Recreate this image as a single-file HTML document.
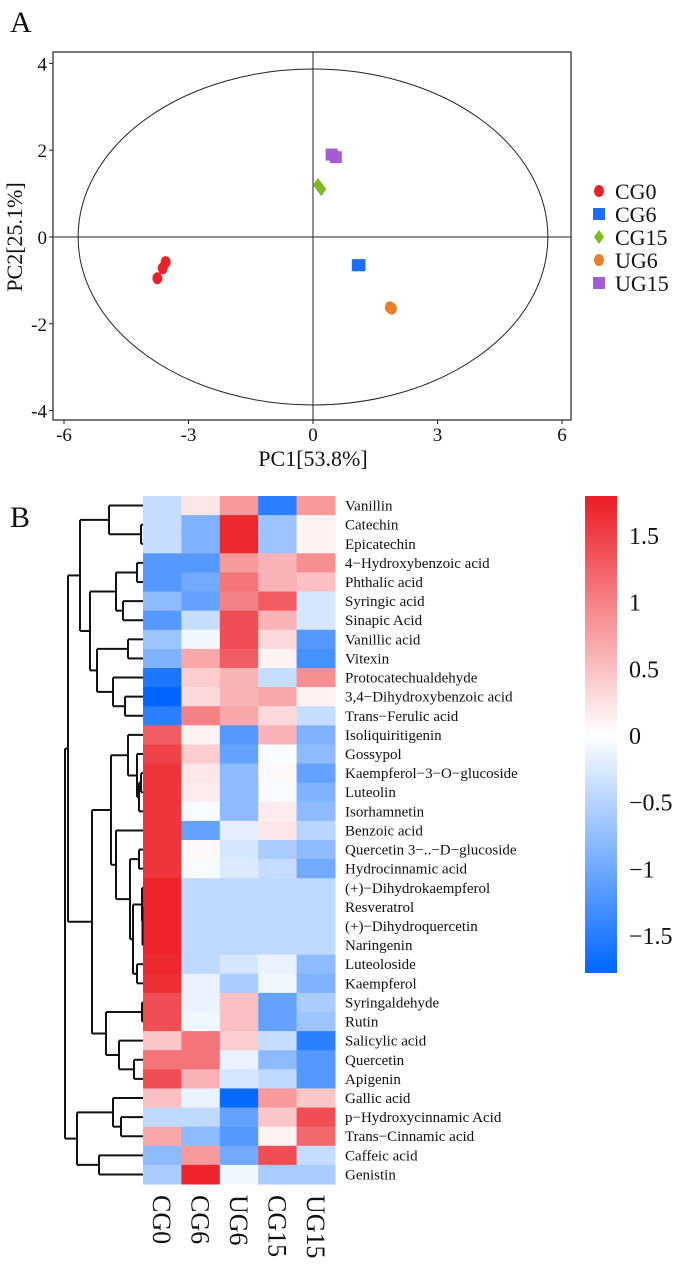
<!DOCTYPE html>
<html><head><meta charset="utf-8"><style>
body{margin:0;background:#fff;width:691px;height:1282px;overflow:hidden}
svg{display:block;font-family:"Liberation Serif",serif}
</style></head><body>
<svg id="s" width="691" height="1282" xmlns="http://www.w3.org/2000/svg"></svg>
<script>
// ---- PCA data ----
const groups=["CG0","CG6","CG15","UG6","UG15"];
const groupColors=["#E8212B","#1E6EF5","#7DBB1E","#EC7D2A","#A35BD6"];
const pc1=[[-3.55,-3.62,-3.75],[1.08,1.12],[0.12,0.2],[1.85,1.9],[0.45,0.55]];
const pc2=[[-0.58,-0.72,-0.95],[-0.65,-0.65],[1.2,1.1],[-1.62,-1.65],[1.9,1.84]];
const xTicks=[-6,-3,0,3,6];
const yTicks=[4,2,0,-2,-4];
// ---- heatmap data ----
const compounds=["Vanillin","Catechin","Epicatechin","4\u2212Hydroxybenzoic acid","Phthalic acid","Syringic acid","Sinapic Acid","Vanillic acid","Vitexin","Protocatechualdehyde","3,4\u2212Dihydroxybenzoic acid","Trans\u2212Ferulic acid","Isoliquiritigenin","Gossypol","Kaempferol\u22123\u2212O\u2212glucoside","Luteolin","Isorhamnetin","Benzoic acid","Quercetin 3\u2212..\u2212D\u2212glucoside","Hydrocinnamic acid","(+)\u2212Dihydrokaempferol","Resveratrol","(+)\u2212Dihydroquercetin","Naringenin","Luteoloside","Kaempferol","Syringaldehyde","Rutin","Salicylic acid","Quercetin","Apigenin","Gallic acid","p\u2212Hydroxycinnamic Acid","Trans\u2212Cinnamic acid","Caffeic acid","Genistin"];
const samples=["CG0","CG6","UG6","CG15","UG15"];
const vCG0=[-0.4,-0.4,-0.4,-1.2,-1.2,-0.8,-1.2,-0.7,-0.9,-1.6,-1.8,-1.5,1.3,1.5,1.6,1.6,1.6,1.6,1.6,1.6,1.75,1.75,1.75,1.75,1.7,1.65,1.4,1.4,0.45,1.1,1.4,0.5,-0.45,0.7,-0.8,-0.6];
const vCG6=[0.2,-0.9,-0.9,-1.2,-1.0,-1.1,-0.4,-0.1,0.7,0.4,0.3,1.0,0.1,0.4,0.2,0.15,-0.05,-1.1,0.05,-0.05,-0.45,-0.45,-0.45,-0.45,-0.45,-0.15,-0.15,-0.1,1.1,1.1,0.6,-0.15,-0.45,-0.8,0.8,1.75];
const vUG6=[0.8,1.7,1.7,0.8,1.1,1.0,1.4,1.4,1.3,0.6,0.6,0.7,-1.2,-1.1,-0.8,-0.8,-0.8,-0.2,-0.3,-0.25,-0.45,-0.45,-0.45,-0.45,-0.3,-0.6,0.5,0.5,0.4,-0.15,-0.3,-1.75,-1.1,-1.2,-1.0,-0.1];
const vCG15=[-1.5,-0.7,-0.7,0.6,0.6,1.3,0.6,0.3,0.1,-0.4,0.7,0.3,0.6,-0.03,0.05,-0.05,0.15,0.2,-0.6,-0.4,-0.45,-0.45,-0.45,-0.45,-0.15,-0.1,-1.1,-1.1,-0.4,-0.8,-0.45,0.8,0.45,0.1,1.4,-0.6];
const vUG15=[0.8,0.1,0.1,0.9,0.5,-0.3,-0.3,-1.2,-1.3,0.9,0.1,-0.4,-0.9,-0.8,-1.1,-0.9,-0.8,-0.5,-0.8,-1.0,-0.45,-0.45,-0.45,-0.45,-0.8,-0.9,-0.6,-0.7,-1.5,-1.2,-1.2,0.45,1.4,1.2,-0.4,-0.6];
const cbTicks=[1.5,1,0.5,0,-0.5,-1,-1.5];
// dendrogram: merge x positions and children (leaf = row index)
const tree={x:65,c:[{x:68,c:[
  {x:80,c:[{x:109,c:[0,{x:141,c:[1,2]}]},{x:90,c:[{x:116,c:[{x:137,c:[3,4]},{x:123,c:[5,6]}]},{x:97,c:[{x:128,c:[7,8]},{x:113,c:[9,{x:125,c:[10,11]}]}]}]}]},
  {x:92,c:[{x:111,c:[{x:128,c:[12,{x:137,c:[13,{x:139,c:[{x:141,c:[14,15]},16]}]}]},{x:116,c:[17,{x:130,c:[{x:139,c:[18,19]},{x:133,c:[{x:142,c:[20,{x:142.5,c:[21,{x:142.5,c:[22,23]}]}]},{x:137,c:[24,25]}]}]}]}]},{x:106,c:[{x:142,c:[26,27]},{x:119,c:[28,{x:134,c:[29,30]}]}]}]}
 ]},{x:77,c:[{x:113,c:[31,{x:121,c:[32,33]}]},{x:99,c:[34,35]}]}]};

const NS="http://www.w3.org/2000/svg",S=document.getElementById('s');
function mk(t,a,p){const e=document.createElementNS(NS,t);for(const k in a)e.setAttribute(k,a[k]);(p||S).appendChild(e);return e;}
function tx(x,y,s,size,anchor,p){const e=mk('text',{x:x,y:y,'font-size':size,'text-anchor':anchor||'start',fill:'#111'},p);e.textContent=s;return e;}

// ---- Panel A ----
const LA=tx(10,32,"A",30);


const gA=mk('g',{});


const X=v=>313+v*41.5, Y=v=>237-v*43.4;
mk('rect',{x:53,y:52,width:518,height:368,fill:'none',stroke:'#222','stroke-width':1.2},gA);
mk('line',{x1:53,x2:571,y1:Y(0),y2:Y(0),stroke:'#222','stroke-width':1},gA);
mk('line',{x1:X(0),x2:X(0),y1:52,y2:420,stroke:'#222','stroke-width':1},gA);
const ell=mk('ellipse',{cx:X(0),cy:Y(0),rx:5.66*41.5,ry:3.87*43.4,fill:'none',stroke:'#222','stroke-width':1},gA);


xTicks.forEach(t=>{mk('line',{x1:X(t),x2:X(t),y1:420,y2:424,stroke:'#222'},gA);const e=tx(X(t),441,String(t),19,'middle',gA);});
yTicks.forEach(t=>{mk('line',{x1:49,x2:53,y1:Y(t),y2:Y(t),stroke:'#222'},gA);const e=tx(47,Y(t)+7,String(t),19,'end',gA);});
const xt=tx(313,466,"PC1[53.8%]",22,'middle',gA);


const yt=tx(0,0,"PC2[25.1%]",22,'middle',gA);
yt.setAttribute('transform','translate(22,237) rotate(-90)');


function marker(g,x,y,c,p){
  let e;
  if(g==0||g==3)e=mk('ellipse',{cx:x,cy:y,rx:5,ry:6,fill:c},p);
  else if(g==1||g==4)e=mk('rect',{x:x-6,y:y-6,width:12,height:12,fill:c},p);
  else e=mk('polygon',{points:`${x},${y-7} ${x+5},${y} ${x},${y+7} ${x-5},${y}`,fill:c},p);
  return e;
}
groups.forEach((g,i)=>{pc1[i].forEach((v,j)=>{const e=marker(i,X(v),Y(pc2[i][j]),groupColors[i],gA);});
  const ly=191+i*23;const m=marker(i,599,ly,groupColors[i],gA);
  const t=tx(615,ly+8,g,22,'start',gA);});

// ---- Panel B ----
const LB=tx(10,527,"B",30);


const gB=mk('g',{});


const hTop=496,rh=688/36,cx0=143,cw=38.4;
const cols=[vCG0,vCG6,vUG6,vCG15,vUG15];
function colr(v){v=Math.max(-1.8,Math.min(1.8,v));let t=Math.abs(v)/1.8;
  if(v>=0)return `rgb(${Math.round(255+(236-255)*t)},${Math.round(255+(28-255)*t)},${Math.round(255+(36-255)*t)})`;
  return `rgb(${Math.round(255*(1-t))},${Math.round(255+(102-255)*t)},255)`;}
cols.forEach((arr,ci)=>arr.forEach((v,ri)=>{const r=mk('rect',{x:cx0+ci*cw,y:hTop+ri*rh,width:cw+0.5,height:rh+0.5,fill:colr(v)},gB);}));
compounds.forEach((c,i)=>{const t=tx(345,hTop+(i+0.5)*rh+5,c,15,'start',gB);});
samples.forEach((s,i)=>{const t=tx(0,0,s,26,'start',gB);t.setAttribute('transform',`translate(${cx0+(i+0.5)*cw-9},1195) rotate(90)`);});
// dendrogram
const gD=mk('g',{stroke:'#111','stroke-width':2,fill:'none'},gB);


function draw(n){if(typeof n==='number')return {x:143,y:hTop+(n+0.5)*rh};
  const ch=n.c.map(draw);const ys=ch.map(c=>c.y);
  ch.forEach(c=>mk('line',{x1:n.x,x2:c.x,y1:c.y,y2:c.y},gD));
  mk('line',{x1:n.x,x2:n.x,y1:Math.min(...ys),y2:Math.max(...ys)},gD);
  return {x:n.x,y:(Math.min(...ys)+Math.max(...ys))/2};}
draw(tree);
// colorbar
const defs=mk('defs',{});
const lg=mk('linearGradient',{id:'cb',x1:0,y1:0,x2:0,y2:1},defs);
for(let k=0;k<=20;k++){const v=1.8-3.6*k/20;mk('stop',{offset:k/20,'stop-color':colr(v)},lg);}
const cb=mk('rect',{x:585,y:496,width:32,height:477,fill:'url(#cb)'},gB);


cbTicks.forEach(t=>{const e=tx(629,735-t*133.3+9,(t<0?'\u2212':'')+Math.abs(t),24,'start',gB);});
</script>
</body></html>
